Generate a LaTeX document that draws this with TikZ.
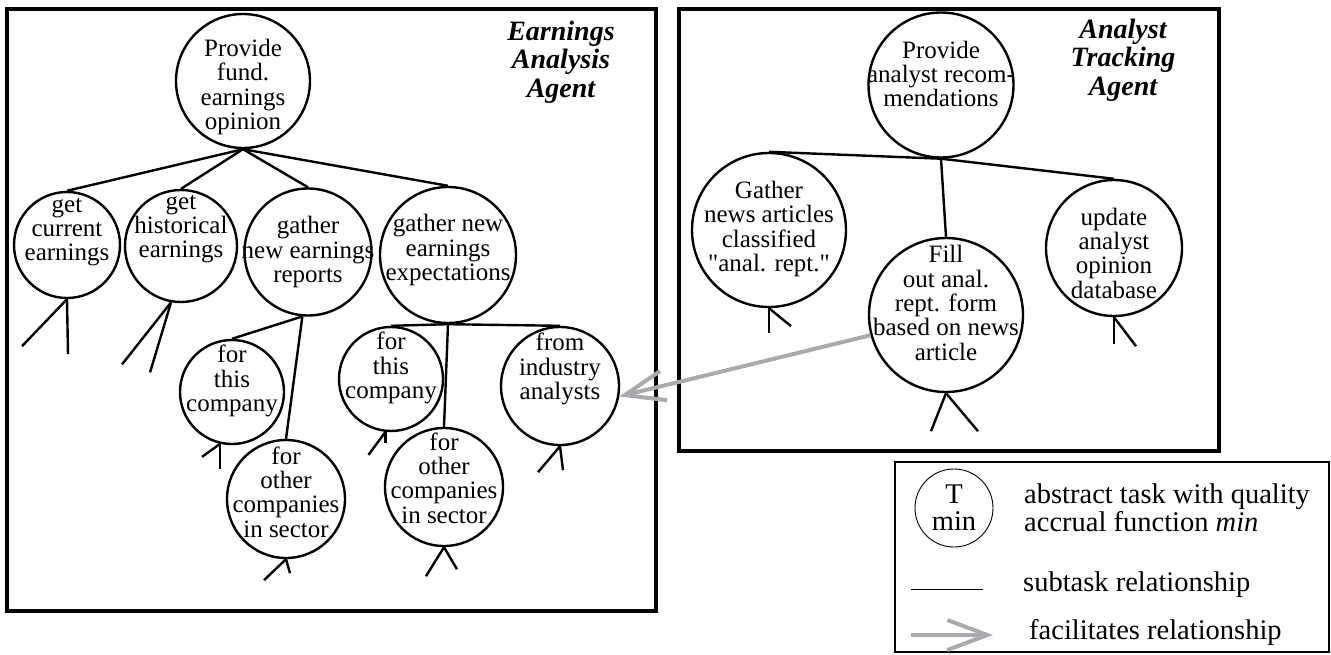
\documentclass[tikz,border=0pt]{standalone}
\usepackage{fontspec}
\setmainfont{Liberation Serif}[Ligatures=TeXOff]
\usetikzlibrary{arrows.meta}
\definecolor{facilgray}{RGB}{170,170,174}
\tikzset{
  task/.style={draw, circle, line width=2.4pt, inner sep=0pt, minimum size=#1},
  tasktext/.style={align=center, inner sep=0pt, font=\fontsize{25}{24.3}\selectfont},
  agentbox/.style={draw, line width=4pt},
  agentname/.style={align=center, inner sep=0pt, font=\fontsize{28}{28.5}\selectfont\bfseries\itshape},
  subtask/.style={line width=2.4pt},
  facil/.style={draw=facilgray, line width=4pt, -{Straight Barb[length=40pt,width=30pt]}},
  legendtext/.style={align=left, anchor=west, inner sep=0pt, font=\fontsize{28.5}{28}\selectfont},
}
\begin{document}
\begin{tikzpicture}[x=1pt,y=-1pt]
        \useasboundingbox (0,0) rectangle (1331,654);

        % agents
        \draw[agentbox] (7,9) rectangle (656,611);
        \draw[agentbox] (679,9) rectangle (1219,451);
        \node[agentname] (EAname) at (561,62) {Earnings\\Analysis\\Agent};
        \node[agentname] (ATname) at (1123,60) {Analyst\\Tracking\\Agent};

        % earnings analysis agent
        \node[task=134,label={[tasktext,yshift=-6pt]center:{Provide\\fund.\\earnings\\opinion}}] (L0) at (243,81) {};
        \node[task=106,label={[tasktext,yshift=13pt]center:{get\\current\\earnings}}] (L1) at (67,245) {};
        \node[task=112,label={[tasktext,yshift=17pt]center:{get\\historical\\earnings}}] (L2) at (181,246) {};
        \node[task=127,label={[tasktext]center:{gather\\new earnings\\reports}}] (L3) at (308,252) {};
        \node[task=136,label={[tasktext,yshift=5pt]center:{gather new\\earnings\\expectations}}] (L4) at (448,255) {};

        \node[task=104,label={[tasktext,yshift=11pt]center:{for\\this\\company}}] (L3a) at (232,392) {};
        \node[task=118,label={[tasktext,yshift=7pt]center:{for\\other\\companies\\in sector}}] (L3b) at (286,499) {};
        \node[task=104,label={[tasktext,yshift=11pt]center:{for\\this\\company}}] (L4a) at (391,379) {};
        \node[task=118,label={[tasktext,yshift=9pt]center:{for\\other\\companies\\in sector}}] (L4b) at (444,487) {};
        \node[task=118,label={[tasktext,yshift=17pt]center:{from\\industry\\analysts}}] (L4c) at (560,386) {};

        \draw[subtask] (L0.south) -- (L1.north);
        \draw[subtask] (L0.south) -- (L2.north);
        \draw[subtask] (L0.south) -- (L3.north);
        \draw[subtask] (L0.south) -- (L4.north);
        \draw[subtask] (L3.-95) -- (L3a.north);
        \draw[subtask] (L3.-95) -- (L3b.north);
        \draw[subtask] (L4.south) -- (L4a.north);
        \draw[subtask] (L4.south) -- (L4b.north);
        \draw[subtask] (L4.south) -- (L4c.north);

        \draw[subtask] (L1.south) -- ++(-45,47) coordinate (L1x);
        \draw[subtask] (L1.south) -- ++(1,55) coordinate (L1y);
        \draw[subtask] (L2.-100) -- ++(-49,62) coordinate (L2x);
        \draw[subtask] (L2.-100) -- ++(-21,70) coordinate (L2y);
        \draw[subtask] (L3a.-103) -- ++(-18,13) coordinate (L3ax);
        \draw[subtask] (L3a.-103) -- ++(0,25) coordinate (L3ay);
        \draw[subtask] (L3b.south) -- ++(-22,21) coordinate (L3bx);
        \draw[subtask] (L3b.south) -- ++(4,14) coordinate (L3by);
        \draw[subtask] (L4a.-96) -- ++(-17,23) coordinate (L4ax);
        \draw[subtask] (L4a.-96) -- ++(0,11) coordinate (L4ay);
        \draw[subtask] (L4b.south) -- ++(-18,29) coordinate (L4bx);
        \draw[subtask] (L4b.south) -- ++(13,22) coordinate (L4by);
        \draw[subtask] (L4c.south) -- ++(-22,26) coordinate (L4cx);
        \draw[subtask] (L4c.south) -- ++(3,24) coordinate (L4cy);

        % analyst tracking agent
        \node[task=145,label={[tasktext,yshift=11pt]center:{Provide\\analyst recom-\\mendations}}] (R0) at (941,85) {};
        \node[task=154,label={[tasktext,yshift=1pt]center:{Gather\\news articles\\classified\\"anal. rept."}}] (R1) at (769,230) {};
        \node[task=154,label={[tasktext,yshift=12pt]center:{Fill\\out anal.\\rept. form\\based on news\\article}}] (R2) at (946,315) {};
        \node[task=136,label={[tasktext,yshift=-5pt]center:{update\\analyst\\opinion\\database}}] (R3) at (1114,248) {};

        \draw[subtask] (R0.south) -- (R1.north);
        \draw[subtask] (R0.south) -- (R2.north);
        \draw[subtask] (R0.south) -- (R3.north);

        \draw[subtask] (R1.south) -- ++(0,25) coordinate (R1x);
        \draw[subtask] (R1.south) -- ++(22,18) coordinate (R1y);
        \draw[subtask] (R2.south) -- ++(-15,38) coordinate (R2x);
        \draw[subtask] (R2.south) -- ++(32,38) coordinate (R2y);
        \draw[subtask] (R3.south) -- ++(0,27) coordinate (R3x);
        \draw[subtask] (R3.south) -- ++(22,29) coordinate (R3y);

        \draw[facil] (R2.195) -- (L4c.-10);

        % legend
        \draw[line width=1.3pt] (895,462) rectangle (1329,652);
        \node[draw,circle,line width=0.9pt,inner sep=0pt,minimum size=78,align=center,font=\fontsize{28.5}{27}\selectfont] (LT) at (954,508) {T\\min};
        \node[legendtext] (LTtext) at (1024,508) {abstract task with quality\\accrual function \textit{min}};
        \coordinate (LSa) at (911,589);
        \coordinate (LSb) at (983,589);
        \draw[line width=1pt] (LSa) -- (LSb);
        \node[legendtext] (LStext) at (1023,585) {subtask relationship};
        \coordinate (LFa) at (911,635);
        \coordinate (LFb) at (993,635);
        \draw[facil] (LFa) -- (LFb);
        \node[legendtext] (LFtext) at (1029,632) {facilitates relationship};
      \end{tikzpicture}
\end{document}
